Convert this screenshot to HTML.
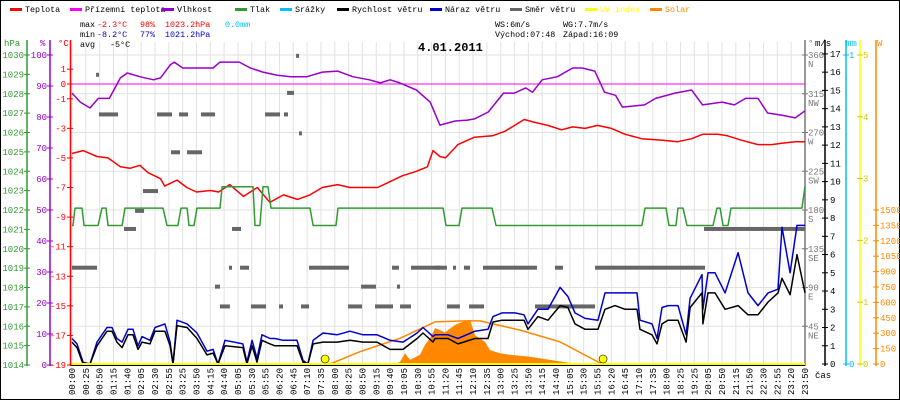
<!DOCTYPE html>
<html><head><meta charset="utf-8"><style>
html,body{margin:0;padding:0;background:#fff;}
svg{display:block;font-family:"Liberation Mono","DejaVu Sans Mono",monospace;}
</style></head><body>
<svg id="c" width="900" height="400" viewBox="0 0 900 400" xmlns="http://www.w3.org/2000/svg">
<rect x="0.5" y="0.5" width="899" height="399" fill="#fff" stroke="#000"/>
<g id="grid"></g>
<g id="legend" font-size="8.4"></g>
<g font-size="8.4">
<text x="80" y="27" fill="#000">max</text><text x="97" y="27" fill="#f00">-2.3°C</text><text x="140" y="27" fill="#f00">98%</text><text x="165" y="27" fill="#f00">1023.2hPa</text><text x="225" y="27" fill="#00bfff">0.0mm</text>
<text x="80" y="37" fill="#000">min</text><text x="97" y="37" fill="#00c">-8.2°C</text><text x="140" y="37" fill="#00c">77%</text><text x="165" y="37" fill="#00c">1021.2hPa</text>
<text x="80" y="47" fill="#000">avg</text><text x="110" y="47" fill="#000">-5°C</text>
<text x="495" y="27" fill="#000">WS:6m/s</text><text x="563" y="27" fill="#000">WG:7.7m/s</text>
<text x="495" y="37" fill="#000">Východ:07:48</text><text x="563" y="37" fill="#000">Západ:16:09</text>
</g>
<text x="418" y="51" font-size="12" font-weight="bold" fill="#000">4.01.2011</text>
<g id="axes" font-size="9"></g>
<g id="marks"></g>
</svg>
<script>
const labels=["00:00","00:25","00:50","01:15","01:40","02:05","02:30","02:55","03:25","03:50","04:15","04:40","05:05","05:30","05:55","06:20","06:45","07:10","07:35","08:00","08:25","08:50","09:15","09:40","10:05","10:30","10:55","11:20","11:45","12:10","12:35","13:00","13:25","13:50","14:15","14:40","15:05","15:30","15:55","16:20","16:45","17:10","17:35","18:00","18:25","19:25","20:05","20:50","21:15","21:50","22:30","22:55","23:20","23:50"];
const tempT=[0,0.8,1.8,2.6,3.5,4.2,4.9,5.5,6.4,6.7,7.6,8.3,9.0,10.0,10.6,11.4,12.4,13.4,14.3,15.3,16.3,17.2,18.1,19.2,20.1,21.0,22.1,23.0,23.9,24.9,25.7,26.1,26.6,27.0,27.9,29.1,30.4,31.3,32.0,32.7,33.5,34.4,35.4,36.2,37.1,38.0,39.0,40.0,41.2,42.7,43.8,44.8,45.6,46.7,47.4,48.4,49.6,50.6,51.3,52.3,53.0];
const tempV=[-4.7,-4.5,-4.9,-5.0,-5.6,-5.7,-5.5,-6.0,-6.4,-6.9,-6.5,-7.0,-7.3,-7.2,-7.3,-6.8,-7.6,-7.0,-8.0,-7.5,-7.8,-7.5,-7.0,-6.8,-7.0,-7.0,-7.0,-6.6,-6.2,-5.9,-5.6,-4.5,-4.9,-5.0,-4.1,-3.6,-3.5,-3.2,-2.8,-2.4,-2.6,-2.8,-3.1,-2.9,-3.0,-2.8,-3.0,-3.4,-3.7,-3.8,-3.9,-3.7,-3.4,-3.4,-3.5,-3.8,-4.1,-4.1,-4.0,-3.9,-3.9];
const groundT=[0,53];
const groundV=[0,0];
const humT=[0,0.6,1.3,1.9,2.7,3.5,4.0,4.9,5.9,6.4,7.1,7.4,8.0,10.2,10.7,12.1,12.9,13.8,14.8,15.8,17.0,18.1,19.2,20.3,21.5,22.3,23.0,23.7,24.9,25.9,26.6,27.7,28.6,29.1,30.1,31.2,32.0,32.8,33.3,34.0,35.1,36.2,36.9,37.8,38.5,39.3,39.8,41.4,42.2,43.6,44.8,45.6,47.0,47.9,48.7,49.6,50.3,51.3,52.3,53.0];
const humV=[87.7,84.8,82.9,86,86,92.6,94.2,93,92,92.6,96.8,97.7,95.8,95.8,97.7,97.7,95.8,94.5,93.5,93,93,94.5,94.8,93,92,91,92,91,88.7,84.8,77.4,78.7,79,79.4,81.6,87.7,87.7,89.4,88,92,93,95.8,95.8,94.8,88,87,83.2,83.9,86,87.7,88.7,83.9,84.8,83.9,86,86,81.3,80.6,79.7,82];
const presT=[0,0.07,0.22,0.72,0.87,1.88,2.17,2.46,2.60,3.62,3.83,6.58,6.87,7.66,7.88,8.32,8.46,8.82,9.04,10.70,10.85,13.09,13.23,13.59,13.81,14.17,14.39,17.21,17.43,19.09,19.23,26.83,27.04,27.98,28.20,30.37,30.66,41.21,41.43,42.95,43.17,43.67,43.82,44.18,44.47,46.35,46.64,46.86,47.07,47.43,47.65,52.78,53.0];
const presV=[1021.2,1021.2,1022.1,1022.1,1021.2,1021.2,1022.1,1022.1,1021.2,1021.2,1022.1,1022.1,1021.2,1021.2,1022.1,1022.1,1021.2,1021.2,1022.1,1022.1,1023.2,1023.2,1021.2,1021.2,1023.2,1023.2,1022.1,1022.1,1021.2,1021.2,1022.1,1022.1,1021.2,1021.2,1022.1,1022.1,1021.2,1021.2,1022.1,1022.1,1021.2,1021.2,1022.1,1022.1,1021.2,1021.2,1022.1,1022.1,1021.2,1021.2,1022.1,1022.1,1023.2];
const windT=[0,0.36,0.8,1.3,1.81,2.53,2.89,3.25,3.62,4.05,4.41,4.77,5.06,5.64,6.0,6.72,7.09,7.3,7.59,8.32,9.04,9.76,10.2,10.56,11.06,12.36,12.65,13.02,13.38,13.74,14.32,14.68,15.26,16.27,16.7,17.06,17.43,18.15,19.16,20.1,21.04,22.05,22.99,23.93,24.95,25.38,26.1,26.25,27.19,27.91,29.14,30.08,30.44,31.09,32.03,32.68,32.97,33.69,34.42,35.29,35.86,36.37,37.09,38.03,38.54,39.26,39.99,40.85,41.07,41.94,42.3,42.66,43.1,43.82,44.4,44.69,45.55,45.62,45.99,46.49,47.22,48.16,48.88,49.6,50.33,51.05,51.34,51.92,52.42,53.0];
const windV=[1.2,0.9,0,0,1.0,1.8,1.8,1.2,0.9,1.6,1.6,0.8,1.2,1.1,1.8,1.8,1.0,0,2.1,2.0,1.4,0.5,0.6,0,1.0,0.9,0,1.0,0.1,1.3,1.1,1.0,1.0,1.0,0.1,0,1.1,1.2,1.2,1.3,1.2,1.2,0.8,0.8,1.4,1.7,1.2,1.4,1.4,1.1,1.4,1.4,2.3,2.4,2.4,2.4,1.9,2.6,2.4,3.2,3.1,2.2,1.9,1.9,3.0,3.2,3.0,3.0,1.9,1.6,1.1,2.2,2.4,2.4,1.2,3.1,3.9,2.2,3.9,3.9,3.0,3.2,2.7,2.7,3.4,3.9,4.7,3.8,6.0,3.9];
const gustV=[1.4,1.1,0.1,0,1.2,2.0,2.0,1.4,1.2,1.9,1.9,1.0,1.5,1.3,2.0,2.2,1.2,0,2.4,2.2,1.7,0.7,0.8,0,1.3,1.1,0.1,1.3,0.3,1.6,1.4,1.4,1.3,1.3,0.2,0,1.3,1.7,1.6,1.8,1.6,1.6,1.3,1.2,1.7,2.0,1.5,1.6,1.6,1.4,1.8,1.9,2.6,2.8,2.8,2.7,2.2,3.0,3.0,4.2,3.7,2.8,2.5,2.4,3.9,3.9,3.9,3.9,2.4,2.2,1.4,3.1,3.2,3.2,1.6,3.6,4.9,3.0,5.0,5.0,3.9,6.1,3.9,3.2,3.9,4.1,7.5,5.0,7.6,7.6];
const dirStart=[16.2,1.74,15.55,1.95,6.15,7.74,9.33,13.96,15.33,16.41,7.16,8.32,5.13,4.56,3.76,11.57,0,11.35,12.15,17.14,23.14,24.51,10.34,20.9,23.5,10.7,12.94,14.97,16.56,19.96,21.91,23.72,26.25,27.55,28.34,29.72,34.92,37.82,27.11,28.71,33.48,45.7];
const dirEnd=[16.41,1.95,16.05,3.33,7.23,8.39,10.34,15.04,15.62,16.56,7.81,9.4,6.22,5.21,4.63,12.22,1.81,11.57,12.8,20.03,23.64,26.61,10.7,21.98,23.72,11.42,14.03,15.26,17.14,20.97,23.21,24.51,27.11,27.77,28.78,33.62,35.5,45.77,28.05,29.79,37.82,53.0];
const dirDeg=[359,337,316,291,291,291,291,291,291,269,247,247,202,179,158,158,113,113,113,113,113,113,91,91,91,68,68,68,68,68,68,68,113,113,113,113,113,113,68,68,68,158];
const solarT=[23.36,23.72,24.08,24.44,25.16,25.52,25.89,26.25,26.97,27.69,28.42,28.78,29.14,29.86,30.22,30.95,31.67,33.12,34.56,36.0,36.37];
const solarV=[0,20,105,40,90,185,250,350,310,380,420,430,280,215,135,105,90,70,40,10,0];
const solarMaxT=[18.66,20.82,23.72,26.25,28.42,29.5,32.39,35.29,38.18,38.39];
const solarMaxV=[0,120,250,410,420,420,330,215,10,0];
const uvT=[0,53];
const uvV=[0,0];
const sunT=[18.3,38.4];

const NS='http://www.w3.org/2000/svg';
const X=i=>72+i*13.83;
const YP=p=>365-(p-1014)*19.375;
const YH=h=>365-h*3.1;
const YC=c=>84-c*14.79;
const YW=v=>364-v*18.24;
const YD=d=>365-d*310/360;
const YS=w=>364-w*0.1027;
const YU=u=>364-u*61.8;
function el(tag,attrs,parent){const e=document.createElementNS(NS,tag);for(const k in attrs)e.setAttribute(k,attrs[k]);parent.appendChild(e);return e;}
const grid=document.getElementById('grid'),axes=document.getElementById('axes'),marks=document.getElementById('marks'),legend=document.getElementById('legend');

for(let i=0;i<labels.length;i++){
  const l=el('line',{x1:X(i),x2:X(i),y1:42,y2:365,stroke:'#e2e2e2','stroke-width':1},grid);
  
  
  const t=el('text',{transform:`translate(${X(i)+3},368) rotate(-90)`,'text-anchor':'end','font-size':'9',fill:'#000'},axes);
  t.textContent=labels[i];
  
  
}
for(let p=1014;p<=1030;p+=2){
  const l=el('line',{x1:71,x2:805,y1:YP(p),y2:YP(p),stroke:'#e2e2e2','stroke-width':1},grid);
  
  
}

const legItems=[["Teplota","#f00",10],["Přízemní teplota","#f0f",70],["Vlhkost","#90c",162],["Tlak","#393",235],["Srážky","#00bfff",280],["Rychlost větru","#000",337],["Náraz větru","#00c",430],["Směr větru","#666",510],["UV index","#ff0",585],["Solar","#f80",650]];
legItems.forEach(it=>{
  const r=el('rect',{x:it[2],y:8,width:12,height:3,fill:it[1]},legend);
  
  
  const t=el('text',{x:it[2]+15,y:12,fill:(it[1]=='#ff0'||it[1]=='#f80')?it[1]:'#000'},legend);
  t.textContent=it[0];
  
  
});

function vaxis(x,color,name){const l=el('line',{x1:x,x2:x,y1:40,y2:366,stroke:color,'stroke-width':1.5},axes);}
function tick(x1,x2,y,color,label,lx,anchor,name){
  el('line',{x1:x1,x2:x2,y1:y,y2:y,stroke:color},axes);
  const t=el('text',{x:lx,y:y+3,fill:color,'text-anchor':anchor},axes);
  t.textContent=label;
  
  
}
vaxis(27,'#393','hpa-axis');vaxis(50,'#90c','humidity-axis');vaxis(70.5,'#f00','temp-axis');
vaxis(805,'#777','direction-axis');vaxis(825,'#000','wind-axis');vaxis(846,'#00bfff','rain-axis');vaxis(860,'#ff0','uv-axis');vaxis(876,'#f80','solar-axis');
for(let p=1014;p<=1030;p++)tick(24,30,YP(p),'#393',String(p),24,'end','hpa-tick-label');
for(let h=0;h<=100;h+=10)tick(47,53,YH(h),'#90c',String(h),47,'end','humidity-tick-label');
[1,0,-1,-3,-5,-7,-9,-11,-13,-15,-17,-19].forEach(c=>tick(67,73,YC(c),'#f00',String(c),66,'end','temp-tick-label'));
const dirNames=["","NE","E","SE","S","SW","W","NW","N"];
for(let d=45;d<=360;d+=45){tick(802,808,YD(d),'#777',String(d),808,'start','direction-tick-label');const t=el('text',{x:808,y:YD(d)+12,fill:'#777'},axes);t.textContent=dirNames[d/45];}
for(let v=0;v<=17;v++)tick(822,828,YW(v),'#000',String(v),830,'start','wind-tick-label');
tick(843,849,YW(0),'#00bfff','0',849,'start','rain-tick-label');tick(843,849,55,'#00bfff','1',849,'start','rain-tick-label');
for(let u=0;u<=5;u++)tick(857,863,YU(u),'#cc0',String(u),863,'start','uv-tick-label');
for(let w=0;w<=1500;w+=150)tick(873,879,YS(w),'#f80',String(w),880,'start','solar-tick-label');
[["hPa",4,'#393'],["%",40,'#90c'],["°C",58,'#f00'],["°",808,'#777'],["m/s",815,'#000'],["mm",846,'#00bfff'],["W",877,'#f80']].forEach(a=>{const t=el('text',{x:a[1],y:46,fill:a[2]},axes);t.textContent=a[0];});
{const t=el('text',{x:815,y:378,fill:'#000'},axes);t.textContent='čas';}

function line(T,V,fy,color,w,name){const d=T.map((t,i)=>(i?'L':'M')+X(t).toFixed(1)+','+fy(V[i]).toFixed(1)).join('');const p=el('path',{d:d,fill:'none',stroke:color,'stroke-width':w,'stroke-linejoin':'round'},marks);}
{const d='M'+X(solarT[0])+','+YS(0)+solarT.map((t,i)=>'L'+X(t).toFixed(1)+','+YS(solarV[i]).toFixed(1)).join('')+'L'+X(solarT[solarT.length-1])+','+YS(0)+'Z';const p=el('path',{d:d,fill:'#f80'},marks);}
line(solarMaxT,solarMaxV,YS,'#f80',1.5,'solar-max-line');
for(let i=0;i<dirDeg.length;i++){
  const r=el('rect',{x:X(dirStart[i]),y:YD(dirDeg[i])-2,width:Math.max(3,X(dirEnd[i])-X(dirStart[i])),height:4,fill:'#666'},marks);
  
  
}
line(groundT,groundV,YC,'#f0f',1,'ground-temp-line');
line(humT,humV,YH,'#90c',1.5,'humidity-line');
line(tempT,tempV,YC,'#f00',1.5,'temperature-line');
line(presT,presV,YP,'#393',1.5,'pressure-line');
line(windT,gustV,YW,'#00c',1.5,'wind-gust-line');
line(windT,windV,YW,'#000',1.5,'wind-speed-line');
line(uvT,uvV,YU,'#ff0',2,'uv-line');
{const l=el('line',{x1:71,x2:805,y1:365.5,y2:365.5,stroke:'#000'},marks);}
sunT.forEach(t=>{const c=el('circle',{cx:X(t),cy:359,r:4,fill:'#ff0',stroke:'#000','stroke-width':0.6},marks);});
</script>
</body></html>
